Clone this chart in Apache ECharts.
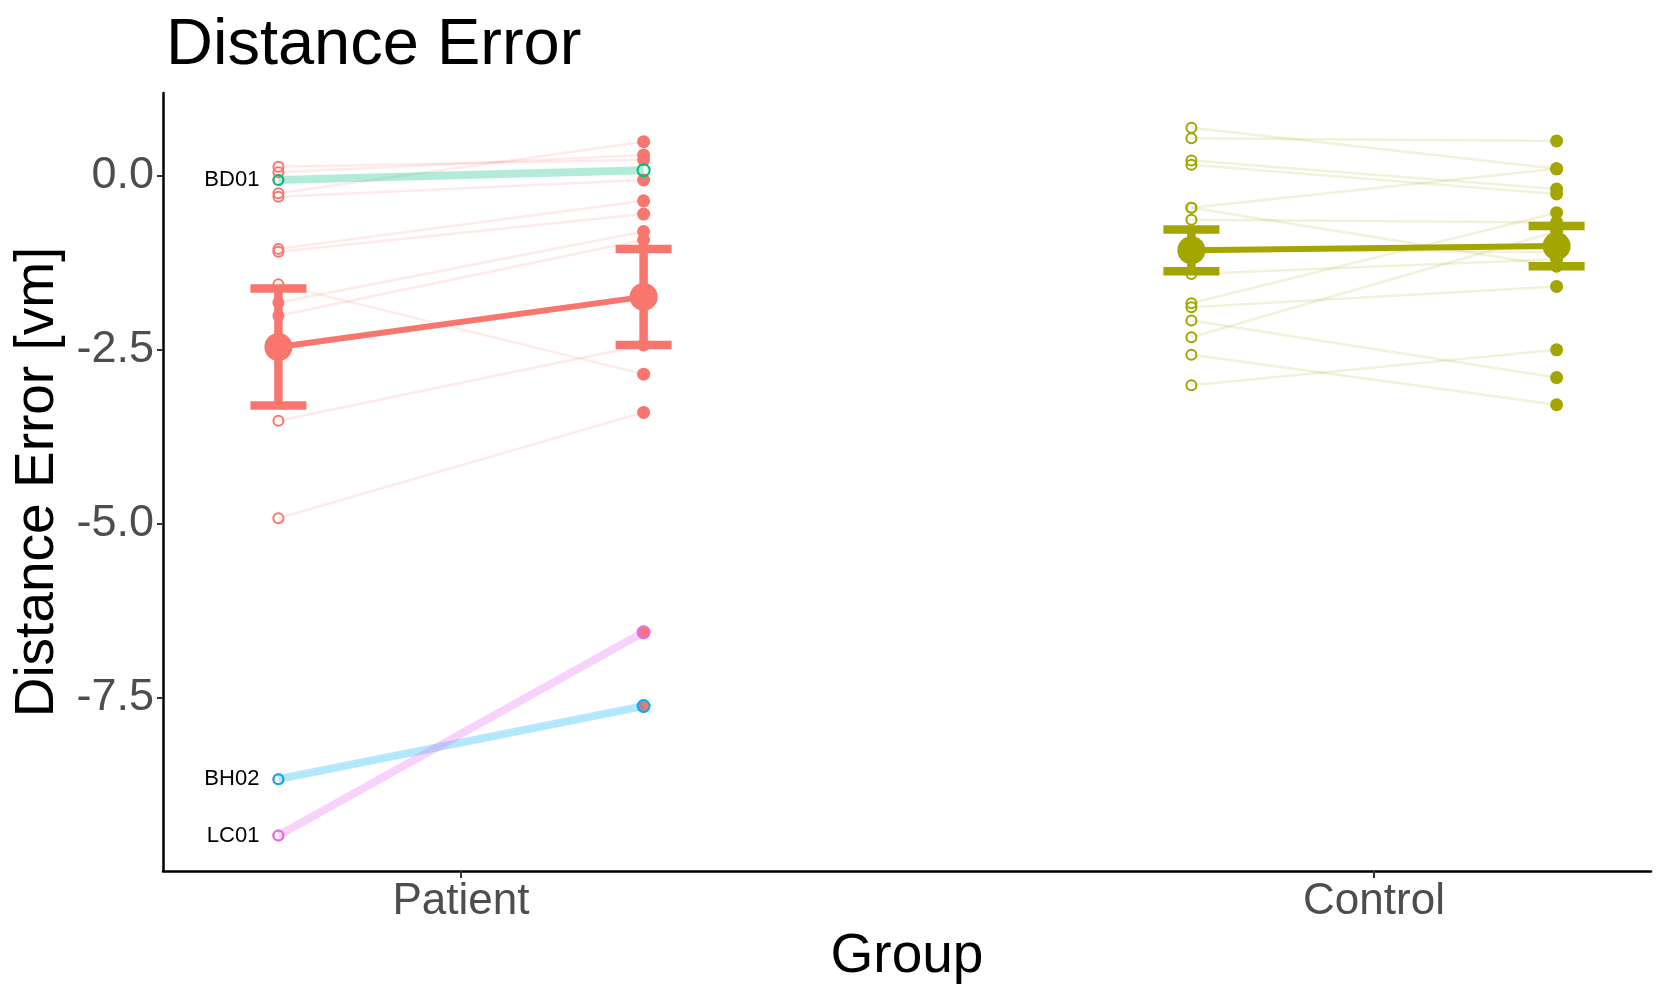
<!DOCTYPE html>
<html>
<head>
<meta charset="utf-8">
<script src="https://cdn.jsdelivr.net/npm/echarts@6/dist/echarts.min.js"></script>
<style>html,body{margin:0;padding:0;background:#fff;}#chart{width:1667px;height:1000px;}</style>
</head>
<body>
<div id="chart"></div>
<script>
// ---- data ----
const categories = ['Patient', 'Control'];
const categoryPos = [1, 2];
const sessionOffset = [-0.2, 0.2];

// Patient subjects (pre -> post), non-highlighted
const patientPre  = [0.13, 0.05, -0.25, -0.30, -1.05, -1.09, -1.56, -1.82, -2.01, -3.52, -4.92];
const patientPost = [0.23, 0.30,  0.49, -0.06, -0.36, -0.55, -2.85, -0.80, -0.92, -2.43, -3.40];

// Highlighted patient subjects
const highlightLabels = ['BD01', 'BH02', 'LC01'];
const highlightPre  = [-0.06, -8.67, -9.48];
const highlightPost = [ 0.08, -7.62, -6.56];
const highlightPostFilled = [false, true, true];

// Control subjects (pre -> post)
const controlPre  = [0.69, 0.54, 0.22, 0.16, -0.46, -0.46, -0.63, -1.05, -1.41, -1.83, -1.89, -2.08, -2.32, -2.57, -3.01];
const controlPost = [0.10, 0.50, -0.19, -0.26, 0.10, -1.30, -0.67, -1.10, -1.20, -0.53, -1.59, -2.90, -0.80, -3.29, -2.50];

// Group means and error bars (pre, post)
const patientMean  = [-2.46, -1.74];
const patientLower = [-3.30, -2.43];
const patientUpper = [-1.62, -1.05];
const controlMean  = [-1.07, -1.01];
const controlLower = [-1.37, -1.30];
const controlUpper = [-0.77, -0.72];

// y ticks
const yTicks = [0, -2.5, -5, -7.5];

// ---- styles ----
const FONT = '"Liberation Sans", Arial, Helvetica, sans-serif';
const PAT = '#F8766D', CON = '#A3A500';
const hiColors = ['#00BF7D', '#00B0F6', '#E76BF3'];

const xPre = g => categoryPos[g] + sessionOffset[0];
const xPost = g => categoryPos[g] + sessionOffset[1];

const series = [];

function faintLines(pre, post, g, color) {
  pre.forEach((v, i) => {
    series.push({
      type: 'line', silent: true, z: 1, symbol: 'none', animation: false,
      data: [[xPre(g), v], [xPost(g), post[i]]],
      lineStyle: { color: color, width: 2.5, opacity: 0.15 }
    });
  });
}
faintLines(patientPre, patientPost, 0, PAT);
faintLines(controlPre, controlPost, 1, CON);

function hollow(vals, x, color, z) {
  series.push({
    type: 'scatter', silent: true, z: z, animation: false, symbolSize: 10,
    data: vals.map(v => [x, v]),
    itemStyle: { color: 'rgba(255,255,255,0)', borderColor: color, borderWidth: 2, opacity: 1 }
  });
}
function filled(vals, x, color, z) {
  series.push({
    type: 'scatter', silent: true, z: z, animation: false, symbolSize: 13,
    data: vals.map(v => [x, v]),
    itemStyle: { color: color, opacity: 1 }
  });
}
hollow(patientPre.concat(highlightPre), xPre(0), PAT, 2);
filled(patientPost.concat(highlightPost.filter((v, i) => highlightPostFilled[i])), xPost(0), PAT, 2);
hollow(controlPre, xPre(1), CON, 2);
filled(controlPost, xPost(1), CON, 2);

// highlighted thick lines and rings
highlightLabels.forEach((lab, i) => {
  series.push({
    type: 'line', silent: true, z: 3, symbol: 'none', animation: false,
    data: [[xPre(0), highlightPre[i]], [xPost(0), highlightPost[i]]],
    lineStyle: { color: hiColors[i], width: 8, opacity: 0.3 }
  });
  series.push({
    type: 'scatter', silent: true, z: 4, animation: false, symbolSize: 10,
    data: [[xPre(0), highlightPre[i]]],
    itemStyle: { color: 'rgba(255,255,255,0)', borderColor: hiColors[i], borderWidth: 2, opacity: 1 },
    label: { show: true, position: 'left', distance: 13, formatter: lab,
      fontFamily: FONT, fontSize: 22, color: '#000' }
  });
  series.push({
    type: 'scatter', silent: true, z: 4, animation: false, symbolSize: 12,
    data: [[xPost(0), highlightPost[i]]],
    itemStyle: { color: 'rgba(255,255,255,0)', borderColor: hiColors[i], borderWidth: 2, opacity: 1 }
  });
});

// mean lines with dots
function meanSeries(mean, lower, upper, g, color) {
  series.push({
    type: 'line', silent: true, z: 5, animation: false,
    symbol: 'circle', symbolSize: 28,
    data: [[xPre(g), mean[0]], [xPost(g), mean[1]]],
    lineStyle: { color: color, width: 6 },
    itemStyle: { color: color, opacity: 1 }
  });
  series.push({
    type: 'custom', silent: true, z: 5, animation: false,
    data: [[xPre(g), lower[0], upper[0]], [xPost(g), lower[1], upper[1]]],
    renderItem: function (params, api) {
      const x = api.value(0);
      const pLo = api.coord([x, api.value(1)]);
      const pHi = api.coord([x, api.value(2)]);
      const hw = 28;
      const st = { stroke: color, lineWidth: 8.5, lineCap: 'butt' };
      return { type: 'group', children: [
        { type: 'line', shape: { x1: pLo[0], y1: pLo[1], x2: pHi[0], y2: pHi[1] }, style: st },
        { type: 'line', shape: { x1: pLo[0] - hw, y1: pLo[1], x2: pLo[0] + hw, y2: pLo[1] }, style: st },
        { type: 'line', shape: { x1: pHi[0] - hw, y1: pHi[1], x2: pHi[0] + hw, y2: pHi[1] }, style: st }
      ]};
    }
  });
}
meanSeries(patientMean, patientLower, patientUpper, 0, PAT);
meanSeries(controlMean, controlLower, controlUpper, 1, CON);

const chart = echarts.init(document.getElementById('chart'), null, { renderer: 'canvas' });
chart.setOption({
  animation: false,
  backgroundColor: '#fff',
  title: {
    text: 'Distance Error', left: 161, top: 9,
    textStyle: { fontFamily: FONT, fontSize: 65, fontWeight: 'normal', color: '#000' }
  },
  grid: { left: 163, right: 16, top: 93, bottom: 129 },
  xAxis: {
    type: 'value', min: 0.6736, max: 2.3034,
    splitLine: { show: false },
    axisLine: { show: true, onZero: false, lineStyle: { color: '#000', width: 2.5 } },
    axisTick: { show: true, customValues: categoryPos, length: 7, lineStyle: { color: '#333', width: 2 } },
    axisLabel: { customValues: categoryPos, formatter: v => categories[categoryPos.indexOf(v)] || '',
      fontFamily: FONT, fontSize: 44, color: '#4D4D4D', margin: 9 },
    name: 'Group', nameLocation: 'middle', nameGap: 57,
    nameTextStyle: { fontFamily: FONT, fontSize: 55, color: '#000' }
  },
  yAxis: {
    type: 'value', min: -9.99, max: 1.19,
    splitLine: { show: false },
    axisLine: { show: true, onZero: false, lineStyle: { color: '#000', width: 2.5 } },
    axisTick: { show: true, customValues: yTicks, length: 6, lineStyle: { color: '#333', width: 2 } },
    axisLabel: { customValues: yTicks, formatter: v => v.toFixed(1),
      fontFamily: FONT, fontSize: 45, color: '#4D4D4D', margin: 9 },
    name: 'Distance Error [vm]', nameLocation: 'middle', nameGap: 95,
    nameTextStyle: { fontFamily: FONT, fontSize: 55, color: '#000' }
  },
  series: series
});
</script>
</body>
</html>
